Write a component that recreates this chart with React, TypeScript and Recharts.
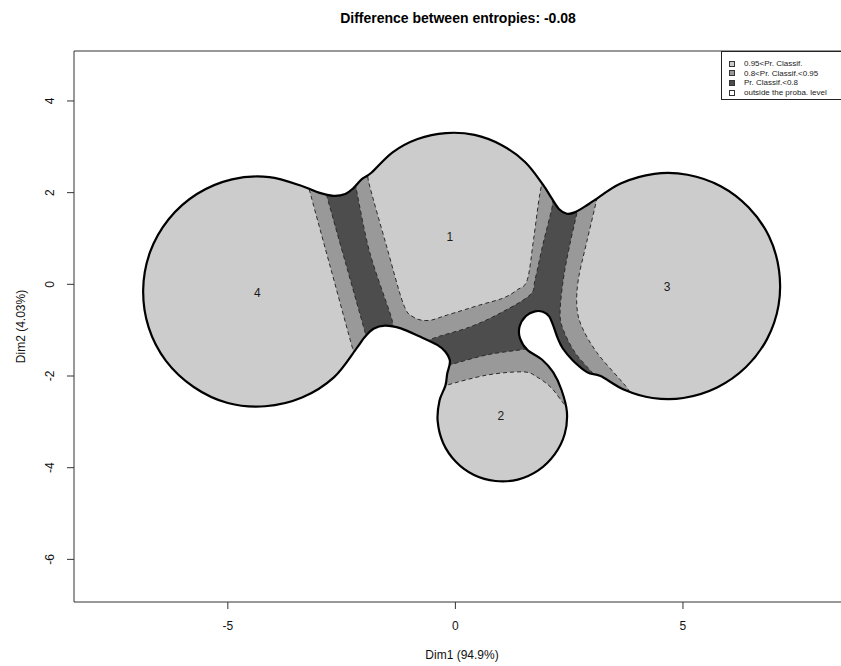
import { Legend, ReferenceArea, Scatter, ScatterChart, XAxis, YAxis } from "recharts";

type Pt = [number, number];
type XY = { x: number; y: number };

const xDomain: [number, number] = [-8.38, 8.67];
const yDomain: [number, number] = [-6.93, 5.09];
const xTicks = [-5, 0, 5];
const yTicks = [-6, -4, -2, 0, 2, 4];

const chartTitle = "Difference between entropies: -0.08";
const xTitle = "Dim1 (94.9%)";
const yTitle = "Dim2 (4.03%)";

const legendLabels = [
  "0.95<Pr. Classif.",
  "0.8<Pr. Classif.<0.95",
  "Pr. Classif.<0.8",
  "outside the proba. level",
];
const legendColors = ["#cccccc", "#999999", "#4d4d4d", "#ffffff"];

// cluster numbers and where they are printed
const clusterIds = ["1", "2", "3", "4"];
const clusterX = [-0.12, 1.0, 4.65, -4.35];
const clusterY = [1.04, -2.87, -0.06, -0.18];

// outer contour of the proba. level, traced clockwise from the left side of cluster 1
const outerContour: Pt[] = [
  // cluster 1 top
  [-1.84, 2.44], [-1.38, 2.88], [-0.83, 3.17], [-0.21, 3.3], [0.42, 3.26], [1.01, 3.04], [1.53, 2.67], [1.92, 2.18],
  // dip between 1 and 3
  [2.1, 1.9], [2.28, 1.64], [2.45, 1.54], [2.62, 1.57], [2.85, 1.7],
  // cluster 3
  [3.05, 1.83], [3.63, 2.2], [4.37, 2.41], [5.1, 2.39], [5.83, 2.14], [6.44, 1.68], [6.89, 1.05], [7.11, 0.31],
  [7.1, -0.46], [6.85, -1.19], [6.38, -1.81], [5.75, -2.25], [5.01, -2.48], [4.33, -2.48], [3.71, -2.3], [3.19, -2.0],
  // hole between 1, 2 and 3
  [2.9, -1.92], [2.58, -1.66], [2.36, -1.4], [2.25, -1.18], [2.15, -0.9], [2.06, -0.7], [1.92, -0.6], [1.75, -0.59],
  [1.55, -0.69], [1.41, -0.92], [1.42, -1.18], [1.58, -1.43], [1.9, -1.64], [2.15, -1.92],
  // cluster 2
  [2.33, -2.3], [2.45, -2.78], [2.4, -3.27], [2.18, -3.71], [1.82, -4.06], [1.37, -4.26], [0.88, -4.29], [0.41, -4.16],
  [0.01, -3.87], [-0.27, -3.46], [-0.39, -2.98], [-0.35, -2.54], [-0.22, -2.21],
  // neck under cluster 1
  [-0.18, -1.95], [-0.12, -1.68], [-0.22, -1.47], [-0.4, -1.32], [-0.78, -1.14], [-1.2, -0.96], [-1.55, -0.9],
  [-1.8, -0.97], [-2.0, -1.16],
  // cluster 4
  [-2.16, -1.38], [-2.67, -2.03], [-3.37, -2.47], [-4.18, -2.66], [-5.0, -2.59], [-5.75, -2.24], [-6.36, -1.67],
  [-6.74, -0.94], [-6.86, -0.12], [-6.71, 0.7], [-6.3, 1.42], [-5.68, 1.97], [-4.91, 2.29], [-4.09, 2.34], [-3.33, 2.13],
  // dip between 4 and 1
  [-3.0, 2.0], [-2.68, 1.93], [-2.42, 1.97], [-2.24, 2.1], [-2.05, 2.3],
];

// dashed iso-probability lines, ends run just past the outer contour
const edge4: Pt[] = [[-3.27, 2.35], [-3.23, 2.14], [-2.74, 0.35], [-2.25, -1.43], [-2.18, -1.62]];
const edgeDarkLeftA: Pt[] = [[-2.86, 2.1], [-2.82, 1.91], [-2.4, 0.42], [-1.98, -1.06], [-1.92, -1.25]];
const edgeDarkLeftB: Pt[] = [[-2.22, 2.35], [-2.16, 1.99], [-1.88, 0.69], [-1.44, -0.62], [-1.37, -0.89], [-1.33, -1.05]];
const edge1: Pt[] = [
  [-1.95, 2.5], [-1.88, 2.13], [-1.52, 0.86], [-1.15, -0.41], [-0.93, -0.71], [-0.6, -0.79], [-0.18, -0.67],
  [0.54, -0.45], [1.05, -0.3], [1.36, -0.12], [1.58, 0.1], [1.72, 1.0], [1.86, 2.0], [1.98, 2.45],
];
const edgeDarkTop: Pt[] = [
  [-0.62, -1.42], [-0.56, -1.21], [0.32, -0.93], [1.0, -0.62], [1.64, -0.23], [1.75, 0.1], [1.92, 0.86], [2.12, 1.66], [2.18, 2.05],
];
const edgeDarkBottom: Pt[] = [[-0.3, -1.85], [-0.12, -1.76], [0.69, -1.54], [1.42, -1.43], [1.75, -1.38]];
const edge2: Pt[] = [[-0.45, -2.28], [-0.23, -2.21], [0.69, -1.98], [1.49, -1.91], [1.79, -2.02], [2.1, -2.25], [2.37, -2.59], [2.55, -2.8]];
const edgeDarkRight: Pt[] = [
  [2.75, 2.0], [2.67, 1.56], [2.5, 0.8], [2.37, 0.1], [2.3, -0.62], [2.37, -0.99], [2.63, -1.49], [3.01, -1.93], [3.2, -2.2],
];
const edge3: Pt[] = [
  [3.15, 2.2], [3.11, 1.88], [2.88, 0.9], [2.7, 0.1], [2.67, -0.49], [2.78, -0.93], [3.11, -1.49], [3.62, -2.08], [3.8, -2.3], [3.9, -2.55],
];

const rev = (pts: Pt[]) => [...pts].reverse();
const toXY = (pts: Pt[]) => pts.map(([x, y]) => ({ x, y }));

// zones: everything that is not light grey, and the two dark parts (corners lie outside the contour)
const midZone: Pt[] = [...edge4, [-1.5, -2.05], ...edge2, [3.2, -2.75], ...rev(edge3), [2.5, 2.3], ...rev(edge1), [-2.6, 2.4]];
const darkLeft: Pt[] = [...edgeDarkLeftA, ...rev(edgeDarkLeftB)];
const darkCentre: Pt[] = [...edgeDarkTop, ...edgeDarkRight, [2.6, -2.0], [2.25, -1.6], ...rev(edgeDarkBottom)];

const dashedEdges = [edge4, edgeDarkLeftA, edgeDarkLeftB, edge1, edgeDarkTop, edgeDarkBottom, edge2, edgeDarkRight, edge3];

// catmull-rom through the projected points
function smoothPath(pts: XY[], closed: boolean): string {
  const n = pts.length;
  if (n < 2) return "";
  const at = (i: number) => (closed ? pts[(i + n) % n] : pts[Math.min(n - 1, Math.max(0, i))]);
  let d = `M${pts[0].x},${pts[0].y}`;
  const count = closed ? n : n - 1;
  for (let i = 0; i < count; i++) {
    const p0 = at(i - 1);
    const p1 = at(i);
    const p2 = at(i + 1);
    const p3 = at(i + 2);
    d += `C${p1.x + (p2.x - p0.x) / 6},${p1.y + (p2.y - p0.y) / 6} ${p2.x - (p3.x - p1.x) / 6},${p2.y - (p3.y - p1.y) / 6} ${p2.x},${p2.y}`;
  }
  return closed ? d + "Z" : d;
}

const noDot = () => <g />;

const zoneFill = (fill: string) => (p: any) => (
  <path d={smoothPath(p.points, true)} fill={fill} stroke="none" clipPath="url(#classif-clip)" />
);

const dashedEdge = (p: any) => (
  <path
    d={smoothPath(p.points, false)}
    fill="none"
    stroke="#2b2b2b"
    strokeWidth={1}
    strokeDasharray="4 3"
    clipPath="url(#classif-clip)"
  />
);

function XTick({ x, y, payload }: any) {
  return (
    <text x={x} y={y + 19} textAnchor="middle" fontSize={12} fill="#111">
      {payload.value}
    </text>
  );
}

function YTick({ x, y, payload }: any) {
  const tx = x - 10.7;
  return (
    <text x={tx} y={y} textAnchor="middle" fontSize={12} fill="#111" transform={`rotate(-90, ${tx}, ${y})`}>
      {payload.value}
    </text>
  );
}

function ClassLegend() {
  return (
    <div
      style={{
        border: "1px solid #222",
        background: "#fff",
        width: 135,
        boxSizing: "border-box",
        padding: "7px 0 2px 7px",
        fontSize: 8,
        lineHeight: "9.6px",
        color: "#222",
      }}
    >
      {legendLabels.map((label, i) => (
        <div key={label} style={{ display: "flex", alignItems: "center", height: 9.6, whiteSpace: "nowrap" }}>
          <span
            style={{
              display: "inline-block",
              width: 6,
              height: 6,
              boxSizing: "border-box",
              background: legendColors[i],
              border: "1px solid #333",
              marginRight: 9,
            }}
          />
          {label}
        </div>
      ))}
    </div>
  );
}

export default function App() {
  const font = "'Liberation Sans', Arial, Helvetica, sans-serif";
  return (
    <div
      style={{
        position: "absolute",
        left: 0,
        top: 0,
        width: 841,
        height: 666,
        overflow: "hidden",
        background: "#fff",
        fontFamily: font,
      }}
    >
      <div
        style={{
          position: "absolute",
          left: 458,
          top: 10,
          transform: "translateX(-50%)",
          whiteSpace: "nowrap",
          fontWeight: "bold",
          fontSize: 14,
          lineHeight: "16px",
          color: "#000",
          zIndex: 2,
        }}
      >
        {chartTitle}
      </div>
      <ScatterChart width={900} height={666} margin={{ top: 51, right: 50, bottom: 0, left: 0 }} style={{ fontFamily: font }}>
        <XAxis
          type="number"
          dataKey="x"
          domain={xDomain}
          ticks={xTicks}
          allowDataOverflow
          height={64}
          tickSize={7}
          tickMargin={2}
          axisLine={false}
          tickLine={{ stroke: "#333" }}
          tick={<XTick />}
          label={{ value: xTitle, position: "insideBottom", offset: 7, fontSize: 12, fill: "#111" }}
        />
        <YAxis
          type="number"
          dataKey="y"
          domain={yDomain}
          ticks={yTicks}
          allowDataOverflow
          width={74}
          tickSize={7}
          tickMargin={2}
          axisLine={false}
          tickLine={{ stroke: "#333" }}
          tick={<YTick />}
          label={{
            value: yTitle,
            angle: -90,
            position: "insideLeft",
            offset: 21,
            fontSize: 12,
            fill: "#111",
            style: { textAnchor: "middle" },
          }}
        />
        <Scatter
          data={toXY(outerContour)}
          isAnimationActive={false}
          shape={noDot}
          line={(p: any) => (
            <g>
              <defs>
                <clipPath id="classif-clip">
                  <path d={smoothPath(p.points, true)} />
                </clipPath>
              </defs>
              <path d={smoothPath(p.points, true)} fill="#cccccc" stroke="none" />
            </g>
          )}
        />
        <Scatter data={toXY(midZone)} isAnimationActive={false} shape={noDot} line={zoneFill("#999999")} />
        <Scatter data={toXY(darkLeft)} isAnimationActive={false} shape={noDot} line={zoneFill("#4d4d4d")} />
        <Scatter data={toXY(darkCentre)} isAnimationActive={false} shape={noDot} line={zoneFill("#4d4d4d")} />
        {dashedEdges.map((edge, i) => (
          <Scatter key={i} data={toXY(edge)} isAnimationActive={false} shape={noDot} line={dashedEdge} />
        ))}
        <Scatter
          data={toXY(outerContour)}
          isAnimationActive={false}
          shape={noDot}
          line={(p: any) => (
            <path d={smoothPath(p.points, true)} fill="none" stroke="#000" strokeWidth={2.2} strokeLinejoin="round" />
          )}
        />
        <Scatter
          data={clusterIds.map((id, i) => ({ x: clusterX[i], y: clusterY[i], id }))}
          isAnimationActive={false}
          shape={(p: any) => (
            <text x={p.cx} y={p.cy} dy={4.3} textAnchor="middle" fontSize={12} fill="#1a1a1a">
              {p.payload.id}
            </text>
          )}
        />
        <ReferenceArea
          x1={xDomain[0]}
          x2={xDomain[1]}
          y1={yDomain[0]}
          y2={yDomain[1]}
          fill="none"
          fillOpacity={0}
          stroke="#333"
          strokeWidth={1}
          ifOverflow="visible"
        />
        <Legend
          layout="horizontal"
          verticalAlign="middle"
          align="center"
          wrapperStyle={{ left: 721, top: 51, width: 140, height: 50 }}
          content={() => <ClassLegend />}
        />
      </ScatterChart>
    </div>
  );
}
